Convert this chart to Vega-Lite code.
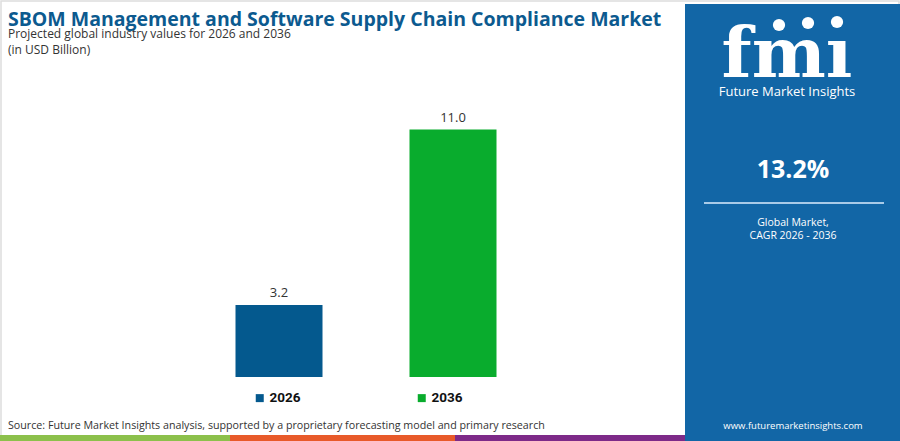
{
  "$schema": "https://vega.github.io/schema/vega-lite/v6.json",
  "width": 348,
  "height": 270,
  "autosize": {"type": "none"},
  "padding": {"left": 192, "top": 107, "right": 360, "bottom": 64},
  "background": "white",
  "config": {"view": {"stroke": null}, "font": "Open Sans"},
  "data": {"values": [
    {"year": "2026", "value": 3.2, "label": "3.2"},
    {"year": "2036", "value": 11.0, "label": "11.0"}
  ]},
  "layer": [
    {
      "data": {"values": [{}]},
      "mark": {"type": "rect", "fill": "white", "stroke": "#dddddd", "strokeWidth": 1.5},
      "encoding": {"x": {"value": -191}, "x2": {"value": 707}, "y": {"value": -106}, "y2": {"value": 333}}
    },
    {
      "data": {"values": [{}]},
      "mark": {"type": "rect", "fill": "#1266a6"},
      "encoding": {"x": {"value": 493}, "x2": {"value": 708}, "y": {"value": -103}, "y2": {"value": 334}}
    },
    {
      "data": {"values": [{}]},
      "mark": {"type": "rect", "fill": "#8cc04b"},
      "encoding": {"x": {"value": -192}, "x2": {"value": 38}, "y": {"value": 328}, "y2": {"value": 334}}
    },
    {
      "data": {"values": [{}]},
      "mark": {"type": "rect", "fill": "#e85a2a"},
      "encoding": {"x": {"value": 38}, "x2": {"value": 263}, "y": {"value": 328}, "y2": {"value": 334}}
    },
    {
      "data": {"values": [{}]},
      "mark": {"type": "rect", "fill": "#7d2a88"},
      "encoding": {"x": {"value": 263}, "x2": {"value": 493}, "y": {"value": 328}, "y2": {"value": 334}}
    },
    {
      "mark": {"type": "bar"},
      "encoding": {
        "x": {"field": "year", "type": "nominal", "axis": null,
              "scale": {"paddingInner": 0.5, "paddingOuter": 0.25}},
        "y": {"field": "value", "type": "quantitative",
              "scale": {"domain": [0, 12], "nice": false},
              "axis": {"values": [0, 2, 4, 6, 8, 10, 12], "labels": false, "ticks": false, "domain": false,
                       "grid": true, "gridColor": "#ebebeb", "gridWidth": 1, "title": null}},
        "color": {"field": "year", "type": "nominal",
                  "scale": {"domain": ["2026", "2036"], "range": ["#04598e", "#09ac2d"]},
                  "legend": {"orient": "none", "legendX": 61, "legendY": 284, "direction": "horizontal",
                             "title": null, "symbolType": "square", "symbolSize": 64, "symbolStrokeWidth": 0,
                             "labelFont": "Roboto", "labelFontWeight": "bold", "labelFontSize": 13.5,
                             "labelColor": "#111111", "labelOffset": 3, "columnPadding": 114}}
      }
    },
    {
      "mark": {"type": "text", "dy": -12, "fontSize": 13, "color": "#333333", "font": "Open Sans"},
      "encoding": {
        "x": {"field": "year", "type": "nominal"},
        "y": {"field": "value", "type": "quantitative"},
        "text": {"field": "label"}
      }
    },
    {
      "data": {"values": [{"t": "SBOM Management and Software Supply Chain Compliance Market"}]},
      "mark": {"type": "text", "align": "left", "baseline": "alphabetic", "font": "Open Sans", "fontWeight": "bold", "fontSize": 19.5, "color": "#0c5a8f"},
      "encoding": {"x": {"value": -184}, "y": {"value": -81}, "text": {"field": "t"}}
    },
    {
      "data": {"values": [{"t": "Projected global industry values for 2026 and 2036"}]},
      "mark": {"type": "text", "align": "left", "baseline": "alphabetic", "fontSize": 12, "color": "#333333"},
      "encoding": {"x": {"value": -184}, "y": {"value": -69}, "text": {"field": "t"}}
    },
    {
      "data": {"values": [{"t": "(in USD Billion)"}]},
      "mark": {"type": "text", "align": "left", "baseline": "alphabetic", "fontSize": 12, "color": "#333333"},
      "encoding": {"x": {"value": -184}, "y": {"value": -53}, "text": {"field": "t"}}
    },
    {
      "data": {"values": [{"t": "Source: Future Market Insights analysis, supported by a proprietary forecasting model and primary research"}]},
      "mark": {"type": "text", "align": "left", "baseline": "alphabetic", "fontSize": 10.7, "color": "#333333"},
      "encoding": {"x": {"value": -184}, "y": {"value": 322}, "text": {"field": "t"}}
    },
    {
      "data": {"values": [{"t": "fmı"}]},
      "mark": {"type": "text", "align": "center", "baseline": "alphabetic", "font": "DejaVu Serif", "fontWeight": "bold", "fontSize": 70, "color": "white"},
      "encoding": {"x": {"value": 595}, "y": {"value": -30}, "text": {"field": "t"}}
    },
    {
      "data": {"values": [{}]},
      "mark": {"type": "point", "filled": true, "color": "white", "opacity": 1, "size": 150},
      "encoding": {"x": {"value": 587}, "y": {"value": -82}}
    },
    {
      "data": {"values": [{}]},
      "mark": {"type": "point", "filled": true, "color": "white", "opacity": 1, "size": 150},
      "encoding": {"x": {"value": 616}, "y": {"value": -84}}
    },
    {
      "data": {"values": [{}]},
      "mark": {"type": "point", "filled": true, "color": "white", "opacity": 1, "size": 150},
      "encoding": {"x": {"value": 645}, "y": {"value": -85}}
    },
    {
      "data": {"values": [{"t": "Future Market Insights"}]},
      "mark": {"type": "text", "align": "center", "baseline": "alphabetic", "fontSize": 13, "color": "white"},
      "encoding": {"x": {"value": 595}, "y": {"value": -11}, "text": {"field": "t"}}
    },
    {
      "data": {"values": [{"t": "13.2%"}]},
      "mark": {"type": "text", "align": "center", "baseline": "alphabetic", "fontWeight": "bold", "fontSize": 25, "color": "white"},
      "encoding": {"x": {"value": 601}, "y": {"value": 71}, "text": {"field": "t"}}
    },
    {
      "data": {"values": [{}]},
      "mark": {"type": "rule", "color": "#a9cbe8", "strokeWidth": 2},
      "encoding": {"x": {"value": 512}, "x2": {"value": 692}, "y": {"value": 96}}
    },
    {
      "data": {"values": [{"t": "Global Market,"}]},
      "mark": {"type": "text", "align": "center", "baseline": "alphabetic", "fontSize": 10.5, "color": "white"},
      "encoding": {"x": {"value": 601}, "y": {"value": 119}, "text": {"field": "t"}}
    },
    {
      "data": {"values": [{"t": "CAGR 2026 - 2036"}]},
      "mark": {"type": "text", "align": "center", "baseline": "alphabetic", "fontSize": 10.5, "color": "white"},
      "encoding": {"x": {"value": 601}, "y": {"value": 132}, "text": {"field": "t"}}
    },
    {
      "data": {"values": [{"t": "www.futuremarketinsights.com"}]},
      "mark": {"type": "text", "align": "center", "baseline": "alphabetic", "fontSize": 9.5, "color": "white"},
      "encoding": {"x": {"value": 601}, "y": {"value": 322}, "text": {"field": "t"}}
    }
  ]
}
